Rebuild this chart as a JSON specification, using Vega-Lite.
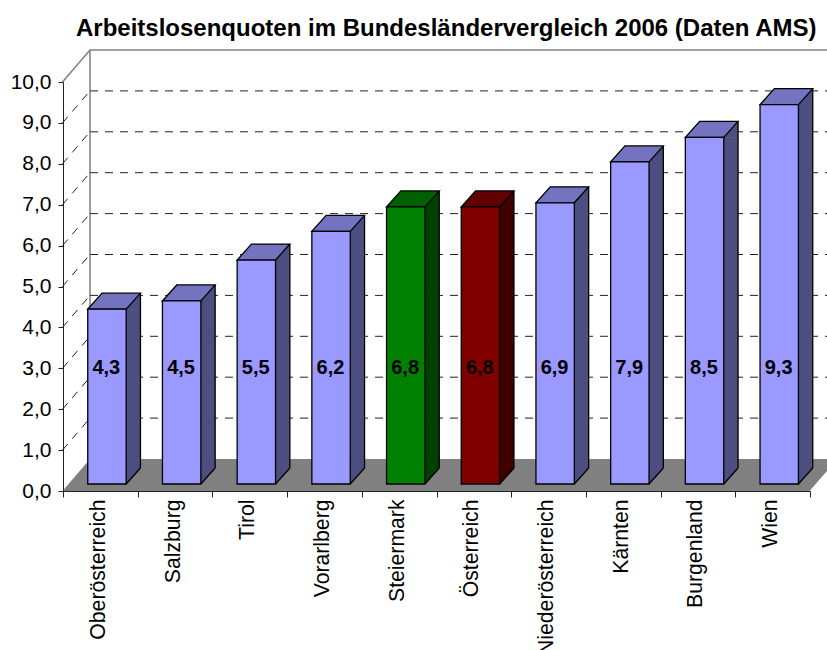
{
"$schema":"https://vega.github.io/schema/vega-lite/v6.json",
"autosize":{"type":"none"},
"padding":{"left":63,"top":82,"right":17,"bottom":159},
"width":747,"height":409,
"background":"white",
"config":{"locale":{"number":{"decimal":",","thousands":".","grouping":[3],"currency":["","€"]}},"view":{"stroke":null},"font":"Liberation Sans"},
"title":{"text":"Arbeitslosenquoten im Bundesländervergleich 2006 (Daten AMS)","font":"Liberation Sans","fontSize":24,"fontWeight":"bold","color":"black","anchor":"start","frame":"group","dx":13,"offset":6},
"datasets":{
"laender":[
{"land":"Oberösterreich","wert":4.3},{"land":"Salzburg","wert":4.5},{"land":"Tirol","wert":5.5},{"land":"Vorarlberg","wert":6.2},{"land":"Steiermark","wert":6.8},{"land":"Österreich","wert":6.8},{"land":"Niederösterreich","wert":6.9},{"land":"Kärnten","wert":7.9},{"land":"Burgenland","wert":8.5},{"land":"Wien","wert":9.3}],
"raster":[{"y":1},{"y":2},{"y":3},{"y":4},{"y":5},{"y":6},{"y":7},{"y":8},{"y":9}],
"boden":[{"land":"Oberösterreich","y":0}]
},
"data":{"name":"laender"},
"encoding":{
"x":{"field":"land","type":"nominal","sort":null,"scale":{"type":"band","paddingInner":0,"paddingOuter":0,"domain":["Oberösterreich","Salzburg","Tirol","Vorarlberg","Steiermark","Österreich","Niederösterreich","Kärnten","Burgenland","Wien"]},
"axis":{"title":null,"labelAngle":-90,"labelAlign":"right","labelBaseline":"middle","labelFontSize":21.2,"labelFont":"Liberation Sans","labelColor":"black","labelOffset":-2,"labelPadding":2,"labelOverlap":false,"labelBound":false,"labelLimit":300,"tickBand":"extent","tickSize":6,"tickColor":"#222222","domainColor":"#222222","grid":false,"zindex":1}}
},
"layer":[
{"data":{"name":"boden"},"mark":{"type":"point","filled":true,"size":4,"opacity":1,"fill":"#808080","stroke":null,"shape":"M-37.85,0 L-10.35,-32 L737,-32 L709.2,0 Z"},"encoding":{"y":{"field":"y","type":"quantitative","scale":{"domain":[0,10],"nice":false,"zero":true},"axis":{"title":null,"values":[0,1,2,3,4,5,6,7,8,9,10],"format":".1f","labelFontSize":21,"labelFont":"Liberation Sans","labelColor":"black","tickSize":5,"tickColor":"#222222","domainColor":"#222222","grid":false,"labelPadding":7,"zindex":1}}}},
{"data":{"name":"boden"},"mark":{"type":"point","filled":false,"size":4,"opacity":1,"stroke":"#808080","strokeWidth":1.5,"shape":"M-37.85,-409 L-10.35,-441 L737,-441 M-10.35,-441 L-10.35,-32"},"encoding":{"y":{"field":"y","type":"quantitative"}}},
{"data":{"name":"raster"},"mark":{"type":"point","filled":false,"size":4,"opacity":1,"stroke":"#222222","strokeWidth":1,"strokeDash":[8,7],"shape":"M-37.85,0 L-10.35,-32 M-10.35,-32 L737,-32"},"encoding":{"x":{"datum":"Oberösterreich"},"y":{"field":"y","type":"quantitative"}}},

{"mark":{"type":"bar","size":14.3,"xOffset":33,"yOffset":-6,"y2Offset":-23,"stroke":null},"encoding":{"y":{"field":"wert","type":"quantitative"},"y2":{"datum":0},"fill":{"condition":[{"test":"datum.land==='Steiermark'","value":"#004000"},{"test":"datum.land==='Österreich'","value":"#400000"}],"value":"#4D4D80"}}},
{"mark":{"type":"point","filled":true,"size":4,"opacity":1,"stroke":null,"shape":"M25.8,-6 L40.1,-22 L40.1,-5.5 L25.8,-5.5 Z"},"encoding":{"y":{"field":"wert","type":"quantitative"},"fill":{"condition":[{"test":"datum.land==='Steiermark'","value":"#004000"},{"test":"datum.land==='Österreich'","value":"#400000"}],"value":"#4D4D80"}}},
{"mark":{"type":"point","filled":true,"size":4,"opacity":1,"stroke":null,"shape":"M25.8,-23.5 L40.1,-23.5 L40.1,-23 L25.8,-7 Z"},"encoding":{"y":{"datum":0},"fill":{"condition":[{"test":"datum.land==='Steiermark'","value":"#004000"},{"test":"datum.land==='Österreich'","value":"#400000"}],"value":"#4D4D80"}}},
{"mark":{"type":"point","filled":false,"size":4,"opacity":1,"stroke":"black","strokeWidth":1.3,"shape":"M25.8,-7 L40.1,-23"},"encoding":{"y":{"datum":0}}},
{"mark":{"type":"rule","xOffset":40.1,"yOffset":-22,"y2Offset":-23,"stroke":"black","strokeWidth":1.3},"encoding":{"y":{"field":"wert","type":"quantitative"},"y2":{"datum":0}}},
{"mark":{"type":"point","filled":true,"size":4,"opacity":1,"stroke":"black","strokeWidth":1.3,"shape":"M-12.6,-6 L25.8,-6 L40.1,-22 L1.7,-22 Z"},"encoding":{"y":{"field":"wert","type":"quantitative"},"fill":{"condition":[{"test":"datum.land==='Steiermark'","value":"#006000"},{"test":"datum.land==='Österreich'","value":"#600000"}],"value":"#7373BF"}}},
{"mark":{"type":"bar","size":38.4,"xOffset":6.6,"yOffset":-6,"y2Offset":-7,"stroke":"black","strokeWidth":1.3},"encoding":{"y":{"field":"wert","type":"quantitative"},"y2":{"datum":0},"fill":{"condition":[{"test":"datum.land==='Steiermark'","value":"#008000"},{"test":"datum.land==='Österreich'","value":"#800000"}],"value":"#9999FF"}}},
{"mark":{"type":"text","dx":6,"fontWeight":"bold","fontSize":20,"font":"Liberation Sans","color":"black","baseline":"middle"},"encoding":{"y":{"datum":3},"text":{"field":"wert","type":"quantitative","format":".1f"}}}
]
}
